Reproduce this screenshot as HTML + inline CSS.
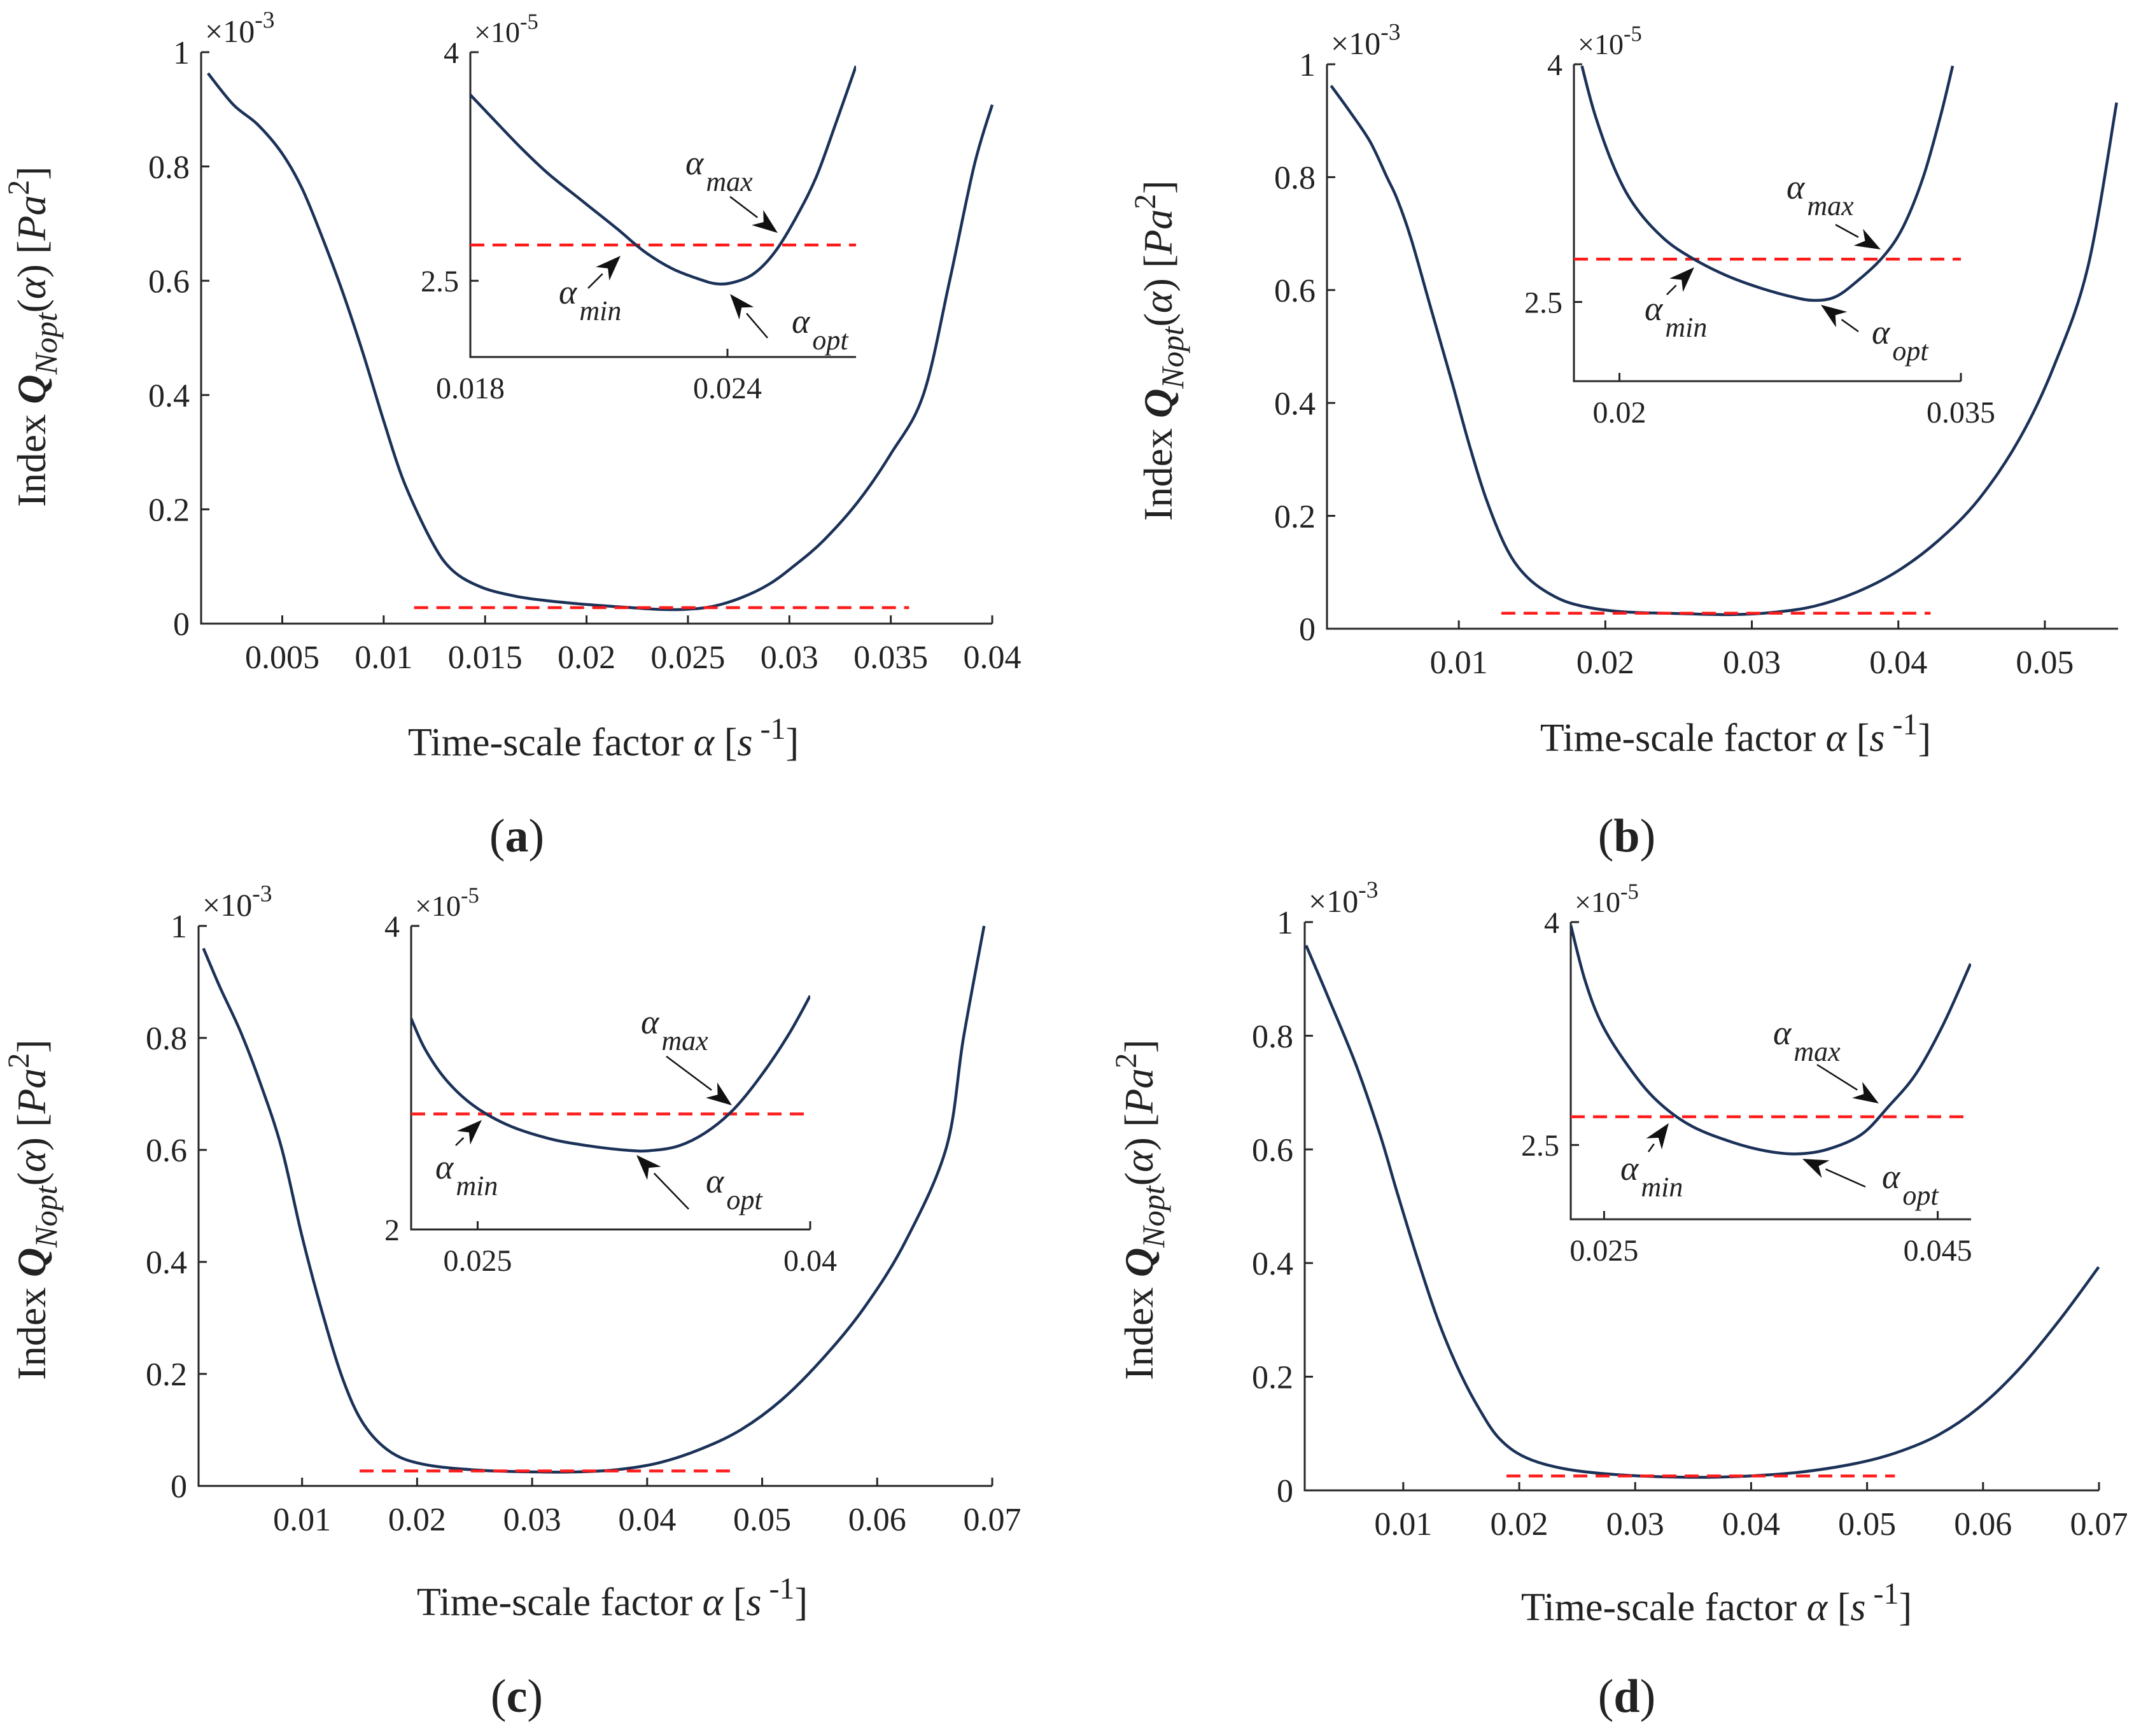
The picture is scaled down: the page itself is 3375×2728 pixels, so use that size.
<!DOCTYPE html>
<html><head><meta charset="utf-8">
<style>
html,body{margin:0;padding:0;background:#fff;}
svg{display:block;}
text{font-family:"Liberation Serif",serif;fill:#222;}
</style></head>
<body>
<svg id="chart" width="3375" height="2728" viewBox="0 0 3375 2728" xmlns="http://www.w3.org/2000/svg"></svg>
<script>
// ---------- data (alpha [1/s], Q in 1e-3 Pa^2 for main, 1e-5 for insets) ----------
const aMainX=[0.00134,0.00259,0.00377,0.00495,0.00597,0.00698,0.008,0.009,0.01,0.011,0.0124,0.0134,0.0148,0.0165,0.0181,0.0202,0.0222,0.0235,0.0249,0.0262,0.0276,0.029,0.0303,0.0317,0.0334,0.035,0.0366,0.0379,0.0391,0.04];
const aMainY=[0.963,0.908,0.874,0.825,0.762,0.675,0.578,0.471,0.355,0.248,0.142,0.093,0.064,0.048,0.040,0.033,0.028,0.025,0.025,0.030,0.045,0.069,0.103,0.146,0.214,0.297,0.40,0.60,0.80,0.908];
const aInX=[0.018,0.01854,0.01919,0.01983,0.02063,0.02143,0.02207,0.02271,0.02335,0.02375,0.02415,0.02463,0.02511,0.02559,0.02607,0.02655,0.027];
const aInY=[3.72,3.56,3.37,3.2,3.02,2.84,2.69,2.58,2.51,2.48,2.49,2.55,2.69,2.91,3.18,3.55,3.91];
const bMainX=[0.00128,0.00254,0.00394,0.00511,0.00581,0.00674,0.00814,0.00954,0.0107,0.01188,0.01328,0.01468,0.01654,0.01841,0.02121,0.02494,0.02868,0.03148,0.03428,0.03708,0.03988,0.04268,0.04548,0.04828,0.05062,0.05295,0.0549];
const bMainY=[0.962,0.917,0.863,0.799,0.760,0.691,0.563,0.436,0.327,0.229,0.141,0.091,0.057,0.040,0.030,0.027,0.025,0.029,0.040,0.064,0.101,0.155,0.229,0.337,0.465,0.642,0.932];
const bInX=[0.01835,0.01895,0.01985,0.02075,0.02195,0.02315,0.02465,0.02615,0.02765,0.02855,0.02945,0.03035,0.03155,0.03245,0.03335,0.0341,0.03464];
const bInY=[3.99,3.67,3.32,3.09,2.90,2.78,2.67,2.59,2.53,2.51,2.53,2.62,2.78,2.97,3.29,3.67,3.99];
const cMainX=[0.00142,0.00285,0.00463,0.0063,0.00821,0.00999,0.01178,0.01357,0.01536,0.01774,0.02072,0.02549,0.03026,0.03383,0.03741,0.04098,0.04456,0.04813,0.05171,0.05529,0.05886,0.06244,0.06601,0.0675,0.06929];
const cMainY=[0.960,0.891,0.812,0.723,0.604,0.446,0.308,0.189,0.110,0.060,0.038,0.028,0.025,0.025,0.029,0.041,0.065,0.100,0.154,0.228,0.318,0.436,0.604,0.80,1.0];
const cInX=[0.022,0.02262,0.02355,0.02478,0.02633,0.02819,0.03004,0.0319,0.03282,0.03406,0.0353,0.03654,0.03777,0.03901,0.04];
const cInY=[3.39,3.19,2.99,2.82,2.69,2.60,2.55,2.52,2.52,2.55,2.64,2.79,3.01,3.28,3.54];
const dMainX=[0.00162,0.00356,0.00592,0.00798,0.00946,0.01122,0.01299,0.01476,0.01653,0.01829,0.02065,0.02419,0.0289,0.03479,0.03951,0.04422,0.04894,0.05247,0.05601,0.05954,0.06308,0.06661,0.06997];
const dMainY=[0.959,0.866,0.749,0.627,0.525,0.408,0.300,0.213,0.144,0.091,0.057,0.037,0.027,0.023,0.025,0.032,0.047,0.066,0.096,0.144,0.213,0.300,0.393];
const dInX=[0.023,0.02385,0.02488,0.02651,0.02815,0.0302,0.03265,0.0347,0.03653,0.03837,0.04042,0.04206,0.0437,0.04533,0.04697];
const dInY=[3.98,3.61,3.31,3.02,2.80,2.63,2.52,2.46,2.44,2.47,2.57,2.76,2.98,3.31,3.72];
// thresholds (dashed lines)
const threshMain=[0.028,0.0275,0.0267,0.0254];
const threshIn=[2.735,2.77,2.761,2.69];
// tick labels
const yTicksMain=[0,0.2,0.4,0.6,0.8,1];
const yTickLabelsMain=["0","0.2","0.4","0.6","0.8","1"];
const aXTicks=[0.005,0.01,0.015,0.02,0.025,0.03,0.035,0.04];
const aXTickLabels=["0.005","0.01","0.015","0.02","0.025","0.03","0.035","0.04"];
const bXTicks=[0.01,0.02,0.03,0.04,0.05];
const bXTickLabels=["0.01","0.02","0.03","0.04","0.05"];
const cdXTicks=[0.01,0.02,0.03,0.04,0.05,0.06,0.07];
const cdXTickLabels=["0.01","0.02","0.03","0.04","0.05","0.06","0.07"];
const aInXTicks=[0.018,0.024], aInXTickLabels=["0.018","0.024"];
const bInXTicks=[0.02,0.035], bInXTickLabels=["0.02","0.035"];
const cInXTicks=[0.025,0.04], cInXTickLabels=["0.025","0.04"];
const dInXTicks=[0.025,0.045], dInXTickLabels=["0.025","0.045"];
const abdInYTicks=[2.5,4], abdInYTickLabels=["2.5","4"];
const cInYTicks=[2,4], cInYTickLabels=["2","4"];

const NS="http://www.w3.org/2000/svg";
const S=document.getElementById('chart');
function mk(tag,parent){const e=document.createElementNS(NS,tag);parent.appendChild(e);return e;}
function attrs(e,o){for(const k in o)e.setAttribute(k,o[k]);return e;}
const NAVY="#1b3158", AX="#262626";

function axes(g,ax,xt,xtl,yt,ytl,fs,prefix){
  const sx=v=>ax.L+(v-ax.x0)/(ax.x1-ax.x0)*(ax.R-ax.L);
  const sy=v=>ax.B-(v-ax.y0)/(ax.y1-ax.y0)*(ax.B-ax.T);
  const p=mk('path',g);
  
  
  attrs(p,{d:`M${ax.L},${ax.T}V${ax.B}H${ax.R}`,fill:'none',stroke:AX,'stroke-width':3});
  xt.forEach((v,i)=>{
    const x=sx(v);
    const t=mk('line',g);
    
    
    attrs(t,{x1:x,x2:x,y1:ax.B,y2:ax.B-13,stroke:AX,'stroke-width':3});
    const l=mk('text',g);
    
    
    attrs(l,{x:x,y:ax.B+fs*1.35,'text-anchor':'middle','font-size':fs});
    l.textContent=xtl[i];
  });
  yt.forEach((v,i)=>{
    const y=sy(v);
    const t=mk('line',g);
    
    
    attrs(t,{x1:ax.L,x2:ax.L+13,y1:y,y2:y,stroke:AX,'stroke-width':3});
    const l=mk('text',g);
    
    
    attrs(l,{x:ax.L-18,y:y+fs*0.35,'text-anchor':'end','font-size':fs});
    l.textContent=ytl[i];
  });
  return {sx,sy};
}
function curve(g,sc,xs,ys,name,clip){
  const P=xs.map((x,i)=>[sc.sx(x),sc.sy(ys[i])]);
  let d='M'+P[0][0].toFixed(1)+','+P[0][1].toFixed(1);
  for(let i=0;i<P.length-1;i++){
    const p0=P[Math.max(0,i-1)],p1=P[i],p2=P[i+1],p3=P[Math.min(P.length-1,i+2)];
    const c1=[p1[0]+(p2[0]-p0[0])/6,p1[1]+(p2[1]-p0[1])/6];
    const c2=[p2[0]-(p3[0]-p1[0])/6,p2[1]-(p3[1]-p1[1])/6];
    d+=`C${c1[0].toFixed(1)},${c1[1].toFixed(1)} ${c2[0].toFixed(1)},${c2[1].toFixed(1)} ${p2[0].toFixed(1)},${p2[1].toFixed(1)}`;
  }
  const p=mk('path',g);
  
  
  attrs(p,{d:d,fill:'none',stroke:NAVY,'stroke-width':4.5,'stroke-linejoin':'round'});
  if(clip)p.setAttribute('clip-path',`url(#${clip})`);
}
function dash(g,sc,x0,x1,y,name){
  const l=mk('line',g);
  
  
  attrs(l,{x1:sc.sx(x0),x2:sc.sx(x1),y1:sc.sy(y),y2:sc.sy(y),stroke:'#ff1a1a','stroke-width':4.5,'stroke-dasharray':'22 13'});
}
function expo(g,x,y,e,fs,name){
  const t=mk('text',g);
  
  
  attrs(t,{x:x,y:y,'font-size':fs});
  t.innerHTML=`×10<tspan dy="-${fs*0.45}" font-size="${fs*0.75}">${e}</tspan>`;
}
function arrow(g,tx,ty,hx,hy,name){
  const a=mk('g',g);
  
  
  const ang=Math.atan2(hy-ty,hx-tx), L=40, W=15;
  const bx=hx-L*Math.cos(ang), by=hy-L*Math.sin(ang);
  const ln=mk('line',a); attrs(ln,{x1:tx,y1:ty,x2:bx,y2:by,stroke:'#111','stroke-width':2.5});
  const px=-Math.sin(ang)*W, py=Math.cos(ang)*W;
  const nx=hx-L*0.7*Math.cos(ang), ny=hy-L*0.7*Math.sin(ang);
  const pg=mk('polygon',a);
  attrs(pg,{points:`${hx},${hy} ${bx+px},${by+py} ${nx},${ny} ${bx-px},${by-py}`,fill:'#111'});
}
function alab(g,x,y,sub,name){
  const t=mk('text',g);
  
  
  attrs(t,{x:x,y:y,'font-size':54,'font-style':'italic'});
  t.innerHTML=`α<tspan dx="4" dy="26" font-size="44">${sub}</tspan>`;
}
function ylabel(g,cx,cy,name){
  const t=mk('text',g);
  
  
  attrs(t,{x:0,y:0,'font-size':64,'text-anchor':'middle',transform:`translate(${cx},${cy}) rotate(-90)`});
  t.innerHTML=`Index <tspan font-style="italic" font-weight="bold">Q</tspan><tspan dy="18" font-size="50" font-style="italic">Nopt</tspan><tspan dy="-18">(</tspan><tspan font-style="italic">α</tspan>) [<tspan font-style="italic">Pa</tspan><tspan dy="-26" font-size="48">2</tspan><tspan dy="26">]</tspan>`;
}
function xlabel(g,cx,y,name){
  const t=mk('text',g);
  
  
  attrs(t,{x:cx,y:y,'font-size':62,'text-anchor':'middle'});
  t.innerHTML=`Time-scale factor  <tspan font-style="italic">α</tspan> [<tspan font-style="italic">s</tspan><tspan dy="-26" font-size="48"> -1</tspan><tspan dy="26">]</tspan>`;
}
function plabel(g,cx,y,s,name){
  const t=mk('text',g);
  
  
  attrs(t,{x:cx,y:y,'font-size':74,'text-anchor':'middle'});
  t.innerHTML=`(<tspan font-weight="bold">${s}</tspan>)`;
}
const defs=mk('defs',S);
function clipFor(id,ax){const c=mk('clipPath',defs);c.setAttribute('id',id);attrs(mk('rect',c),{x:ax.L,y:ax.T-2,width:ax.R-ax.L,height:ax.B-ax.T+2});}

const panels=[
 {id:'a',main:{L:316,R:1559,T:82,B:980,x0:0.001,x1:0.04,y0:0,y1:1},mx:aMainX,my:aMainY,xt:aXTicks,xtl:aXTickLabels,d0:0.0115,d1:0.0359,
  ins:{L:739,R:1345,T:82,B:561,x0:0.018,x1:0.027,y0:2,y1:4},ix:aInX,iy:aInY,ixt:aInXTicks,ixtl:aInXTickLabels,iyt:abdInYTicks,iytl:abdInYTickLabels,
  ann:{max:[1077,274,1147,309,1222,366],min:[878,477,924,453,975,402],opt:[1244,523,1206,531,1147,462]},
  yl:[71,529],xl:[948,1187],pl:[812,1338]},
 {id:'b',main:{L:2085,R:3328,T:101,B:988,x0:0.001,x1:0.055,y0:0,y1:1},mx:bMainX,my:bMainY,xt:bXTicks,xtl:bXTickLabels,d0:0.0129,d1:0.0422,
  ins:{L:2473,R:3081,T:101,B:599,x0:0.018,x1:0.035,y0:2,y1:4},ix:bInX,iy:bInY,ixt:bInXTicks,ixtl:bInXTickLabels,iyt:abdInYTicks,iytl:abdInYTickLabels,
  ann:{max:[2807,312,2884,353,2955,392],min:[2584,503,2619,463,2662,420],opt:[2941,540,2920,521,2861,479]},
  yl:[1841,551],xl:[2727,1180],pl:[2556,1338]},
 {id:'c',main:{L:312,R:1559,T:1455,B:2335,x0:0.001,x1:0.07,y0:0,y1:1},mx:cMainX,my:cMainY,xt:cdXTicks,xtl:cdXTickLabels,d0:0.015,d1:0.0472,
  ins:{L:646,R:1273,T:1455,B:1932,x0:0.022,x1:0.04,y0:2,y1:4},ix:cInX,iy:cInY,ixt:cInXTicks,ixtl:cInXTickLabels,iyt:cInYTicks,iytl:cInYTickLabels,
  ann:{max:[1007,1624,1047,1660,1150,1737],min:[684,1852,716,1800,757,1760],opt:[1109,1874,1082,1900,1000,1815]},
  yl:[71,1901],xl:[962,2538],pl:[812,2690]},
 {id:'d',main:{L:2050,R:3298,T:1449,B:2342,x0:0.0015,x1:0.07,y0:0,y1:1},mx:dMainX,my:dMainY,xt:cdXTicks,xtl:cdXTickLabels,d0:0.0189,d1:0.0524,
  ins:{L:2468,R:3097,T:1449,B:1916,x0:0.023,x1:0.047,y0:2,y1:4},ix:dInX,iy:dInY,ixt:dInXTicks,ixtl:dInXTickLabels,iyt:abdInYTicks,iytl:abdInYTickLabels,
  ann:{max:[2786,1641,2855,1673,2952,1734],min:[2546,1854,2590,1810,2622,1765],opt:[2957,1867,2931,1865,2832,1821]},
  yl:[1811,1901],xl:[2697,2546],pl:[2556,2690]}
];
panels.forEach((P,k)=>{
  const g=mk('g',S);
  
  
  const m=axes(g,P.main,P.xt,P.xtl,yTicksMain,yTickLabelsMain,52,'main-'+P.id);
  curve(g,m,P.mx,P.my,'index-curve-'+P.id);
  dash(g,m,P.d0,P.d1,threshMain[k],'threshold-line-'+P.id);
  expo(g,P.main.L+6,P.main.T-16,'-3',50,'y-scale-exponent-'+P.id);
  ylabel(g,P.yl[0],P.yl[1],'y-axis-title-'+P.id);
  xlabel(g,P.xl[0],P.xl[1],'x-axis-title-'+P.id);
  plabel(g,P.pl[0],P.pl[1],P.id,'panel-label-'+P.id);
  const ig=mk('g',g);
  
  
  clipFor('clip-'+P.id,P.ins);
  const s=axes(ig,P.ins,P.ixt,P.ixtl,P.iyt,P.iytl,48,'inset-'+P.id);
  dash(ig,s,P.ins.x0,P.ins.x1,threshIn[k],'inset-threshold-line-'+P.id);
  curve(ig,s,P.ix,P.iy,'inset-curve-'+P.id,'clip-'+P.id);
  expo(ig,P.ins.L+6,P.ins.T-16,'-5',46,'inset-y-scale-exponent-'+P.id);
  const A=P.ann;
  alab(ig,A.max[0],A.max[1],'max','alpha-max-label-'+P.id);
  arrow(ig,A.max[2],A.max[3],A.max[4],A.max[5],'alpha-max-arrow-'+P.id);
  alab(ig,A.min[0],A.min[1],'min','alpha-min-label-'+P.id);
  arrow(ig,A.min[2],A.min[3],A.min[4],A.min[5],'alpha-min-arrow-'+P.id);
  alab(ig,A.opt[0],A.opt[1],'opt','alpha-opt-label-'+P.id);
  arrow(ig,A.opt[2],A.opt[3],A.opt[4],A.opt[5],'alpha-opt-arrow-'+P.id);
});
</script>
</body></html>
